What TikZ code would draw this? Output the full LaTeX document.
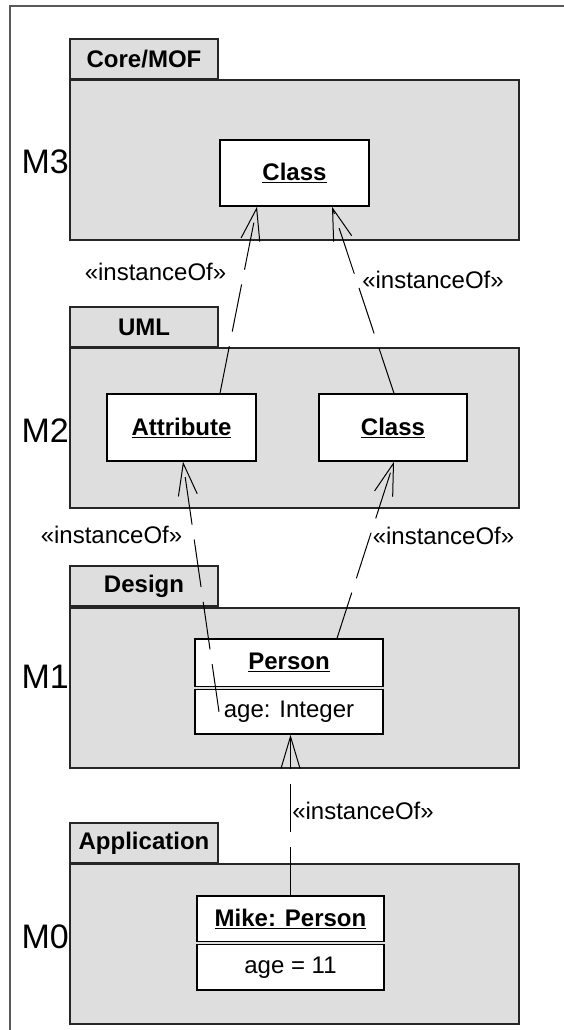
\documentclass[tikz,border=0pt]{standalone}
\usepackage{fontspec}
\setmainfont{Liberation Sans}
\usetikzlibrary{arrows.meta}
\definecolor{pkgfill}{RGB}{222,222,222}
\begin{document}
\begin{tikzpicture}[x=1pt,y=-1pt,
  pkgtab/.style={draw=black!85, line width=1.4pt, fill=pkgfill, inner sep=0pt,
    minimum width=148pt, minimum height=40pt, font=\fontsize{24}{28}\selectfont\bfseries},
  pkgbody/.style={draw=black!85, line width=1.4pt, fill=pkgfill, inner sep=0pt,
    minimum width=449pt, minimum height=160pt},
  elem/.style={draw=black, line width=1.4pt, fill=white, inner sep=0pt,
    font=\fontsize{24}{28}\selectfont\bfseries},
  slot/.style={draw=black, line width=1.4pt, fill=white, inner sep=0pt,
    font=\fontsize{24}{28}\selectfont},
  level/.style={anchor=base east, inner sep=0pt, font=\fontsize{34}{40}\selectfont},
  stereo/.style={inner sep=0pt, font=\fontsize{24}{28}\selectfont},
  inst/.style={draw=black, line width=1pt, dash pattern=on 48pt off 15pt,
    -{Straight Barb[length=32pt,width=19pt]}},
  frame/.style={draw=black!65, line width=1.2pt}
]
\useasboundingbox (0,0) rectangle (564,1030);

% outer frame (top and left edges)
\draw[frame] (10,1030) -- (10,6) -- (564,6);

% ---- M3: Core/MOF
\node[pkgtab]  (t3) at (144,59)    {Core/MOF};
\node[pkgbody] (p3) at (294.5,160) {};
\node[level]   (m3) at (69,173)    {M3};
\node[elem, minimum width=149pt, minimum height=66pt] (c3) at (294.5,173) {\underline{Class}};

% ---- M2: UML
\node[pkgtab]  (t2) at (144,327)   {UML};
\node[pkgbody] (p2) at (294.5,428) {};
\node[level]   (m2) at (69,442)    {M2};
\node[elem, minimum width=149pt, minimum height=67pt] (attr) at (181.5,427.5) {\underline{Attribute}};
\node[elem, minimum width=148pt, minimum height=67pt] (c2)   at (393,427.5)   {\underline{Class}};

% ---- M1: Design
\node[pkgtab]  (t1) at (144,586)   {Design};
\node[pkgbody] (p1) at (294.5,688) {};
\node[level]   (m1) at (69,688)    {M1};
\node[elem, minimum width=188pt, minimum height=47.5pt] (pers)  at (289,662.75) {\underline{Person}};
\node[slot, minimum width=188pt, minimum height=44.5pt] (pattr) at (289,711.75) {age: Integer};

% ---- M0: Application
\node[pkgtab]  (t0) at (144,843)   {Application};
\node[pkgbody] (p0) at (294.5,944) {};
\node[level]   (m0) at (69,948)    {M0};
\node[elem, minimum width=187pt, minimum height=45.5pt] (mike)  at (290.5,918.75) {\underline{Mike: Person}};
\node[slot, minimum width=187pt, minimum height=45.5pt] (mattr) at (290.5,967.25) {age = 11};

% ---- instanceOf dependencies
\draw[inst] ([xshift=38.5pt]attr.north) -- ([xshift=-37.5pt]c3.south);
\draw[inst] ([xshift=1pt]c2.north) -- ([xshift=37.5pt]c3.south);
\draw[inst] ([xshift=-70pt]pattr.center) -- ([xshift=1.5pt]attr.south);
\draw[inst] ([xshift=48pt]pers.north) -- ([xshift=1pt]c2.south);
\draw[inst] (mike.north) -- (mike.north |- pattr.south);

% ---- stereotype labels
\node[stereo] (s1) at (155.5,272) {«instanceOf»};
\node[stereo] (s2) at (433,280)   {«instanceOf»};
\node[stereo] (s3) at (111.5,535) {«instanceOf»};
\node[stereo] (s4) at (443.5,536) {«instanceOf»};
\node[stereo] (s5) at (363,811)   {«instanceOf»};
\end{tikzpicture}
\end{document}
